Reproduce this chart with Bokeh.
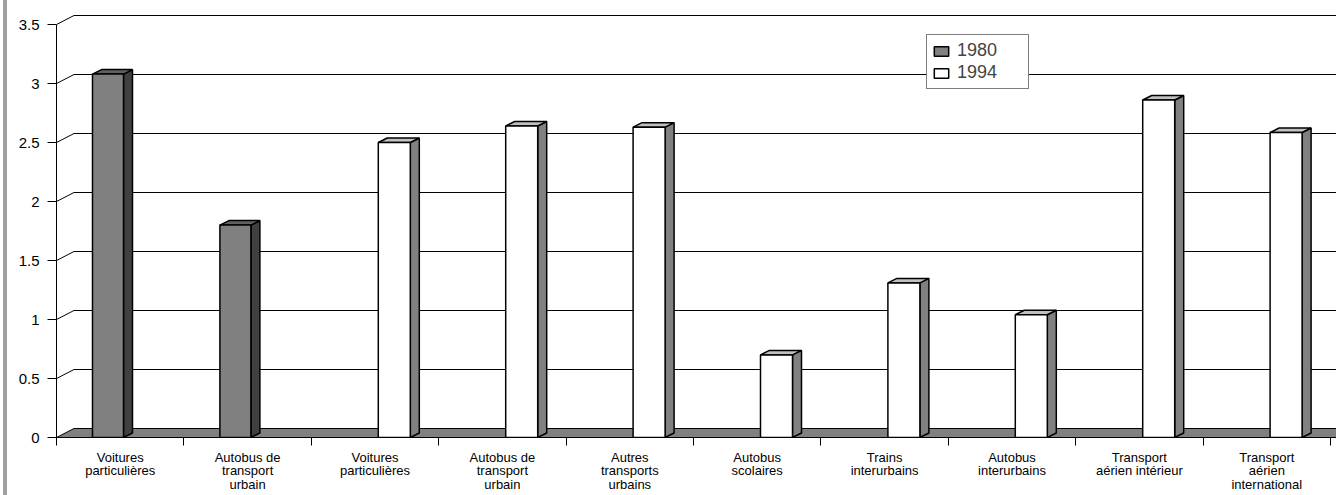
import math
from bokeh.plotting import figure
from bokeh.models import (Range1d, FixedTicker, NumeralTickFormatter, Legend, LegendItem,
                          Div)
from bokeh.layouts import row
from bokeh.embed import file_html
from bokeh.resources import INLINE

NaN = float("nan")

# ---------------- data ----------------
categories = [
    "Voitures\nparticulières",
    "Autobus de\ntransport\nurbain",
    "Voitures\nparticulières",
    "Autobus de\ntransport\nurbain",
    "Autres\ntransports\nurbains",
    "Autobus\nscolaires",
    "Trains\ninterurbains",
    "Autobus\ninterurbains",
    "Transport\naérien intérieur",
    "Transport\naérien\ninternational",
]
series_names = ["1980", "1994"]
values_1980 = [3.08, 1.80, NaN, NaN, NaN, NaN, NaN, NaN, NaN, NaN]
values_1994 = [NaN, NaN, 2.50, 2.64, 2.63, 0.70, 1.31, 1.04, 2.86, 2.585]
y_ticks = [0, 0.5, 1, 1.5, 2, 2.5, 3, 3.5]

# ---------------- geometry / style ----------------
PX_X = 127.4          # pixels per category
PX_Y = 118.0          # pixels per unit
FRAME_W = 1280
FRAME_H = 437
X_END = FRAME_W / PX_X
Y_END = FRAME_H / PX_Y
WALL_DX = 17.5 / PX_X
WALL_DY = 9.0 / PX_Y
BAR_DX = 9.0 / PX_X
BAR_DY = 4.5 / PX_Y
BAR_SLOTS = {"1980": (36 / PX_X, 67 / PX_X), "1994": (67 / PX_X, 99 / PX_X)}
COLORS = {
    "1980": dict(front="#808080", side="#404040", top="#606060"),
    "1994": dict(front="#ffffff", side="#808080", top="#c0c0c0"),
}
FONT = "Liberation Sans"

p = figure(width=1329, height=495, output_backend="svg", toolbar_location=None,
           x_range=Range1d(0, X_END), y_range=Range1d(0, Y_END),
           min_border_left=49, min_border_right=0, min_border_top=0, min_border_bottom=58)
p.xgrid.visible = False
p.ygrid.visible = False
p.outline_line_color = None
p.background_fill_color = "white"
p.border_fill_color = "white"

# floor
p.patch([0, WALL_DX, X_END + 1, X_END + 1], [0, WALL_DY, WALL_DY, 0],
        fill_color="#808080", line_color="black", line_width=1)

# gridlines (side wall diagonal + back wall horizontal)
gx, gy = [], []
for v in y_ticks[1:]:
    gx.append([0, WALL_DX, X_END + 1])
    gy.append([v, v + WALL_DY, v + WALL_DY])
p.multi_line(gx, gy, line_color="black", line_width=1)

# bars
front_renderers = {}
for name, vals in zip(series_names, [values_1980, values_1994]):
    l_off, r_off = BAR_SLOTS[name]
    lefts, rights, tops = [], [], []
    for i, v in enumerate(vals):
        if v is None or (isinstance(v, float) and math.isnan(v)):
            continue
        lefts.append(i + l_off)
        rights.append(i + r_off)
        tops.append(v)
    side_xs = [[r, r + BAR_DX, r + BAR_DX, r] for r in rights]
    side_ys = [[0, BAR_DY, t + BAR_DY, t] for t in tops]
    top_xs = [[l, l + BAR_DX, r + BAR_DX, r] for l, r in zip(lefts, rights)]
    top_ys = [[t, t + BAR_DY, t + BAR_DY, t] for t in tops]
    c = COLORS[name]
    p.patches(side_xs, side_ys, fill_color=c["side"], line_color="black", line_width=1.5)
    p.patches(top_xs, top_ys, fill_color=c["top"], line_color="black", line_width=1.5)
    front_renderers[name] = p.quad(left=lefts, right=rights, bottom=[0] * len(tops), top=tops,
                                   fill_color=c["front"], line_color="black", line_width=1.5)

# y axis
ya = p.yaxis[0]
ya.ticker = FixedTicker(ticks=y_ticks)
ya.formatter = NumeralTickFormatter(format="0.[0]")
ya.bounds = (0, 3.5)
ya.axis_line_color = "black"
ya.major_tick_out = 9
ya.major_tick_in = 0
ya.minor_tick_line_color = None
ya.major_label_standoff = 8
ya.major_label_text_font = FONT
ya.major_label_text_font_size = "15px"
ya.major_label_text_color = "black"

# x axis: labels at category centres, tick marks at category boundaries
xa = p.xaxis[0]
xa.ticker = FixedTicker(ticks=[i + 0.5 for i in range(len(categories))],
                        minor_ticks=list(range(len(categories) + 1)))
xa.major_label_overrides = {i + 0.5: lab for i, lab in enumerate(categories)}
xa.major_tick_out = 0
xa.major_tick_in = 0
xa.minor_tick_out = 8
xa.minor_tick_in = 0
xa.minor_tick_line_color = "black"
xa.axis_line_color = "black"
xa.major_label_standoff = 4
xa.major_label_text_font = FONT
xa.major_label_text_font_size = "13px"
xa.major_label_text_line_height = 0.93
xa.major_label_text_color = "black"

legend = Legend(items=[LegendItem(label=n, renderers=[front_renderers[n]]) for n in series_names],
                location=(870, 348))
legend.border_line_color = "black"
legend.border_line_width = 1
legend.background_fill_color = "white"
legend.background_fill_alpha = 1
legend.label_text_font = FONT
legend.label_text_font_size = "18px"
legend.glyph_width = 18
legend.glyph_height = 12
legend.padding = 5
legend.spacing = 1
legend.label_height = 20
legend.label_standoff = 7
legend.label_width = 66
legend.margin = 0
p.add_layout(legend)

strip = Div(text="", width=4, height=495, styles={"background-color": "#a0a0a0"},
            margin=(0, 0, 0, 3))
layout = row(strip, p, spacing=0)

open("out.html", "w").write(file_html(layout, INLINE))
